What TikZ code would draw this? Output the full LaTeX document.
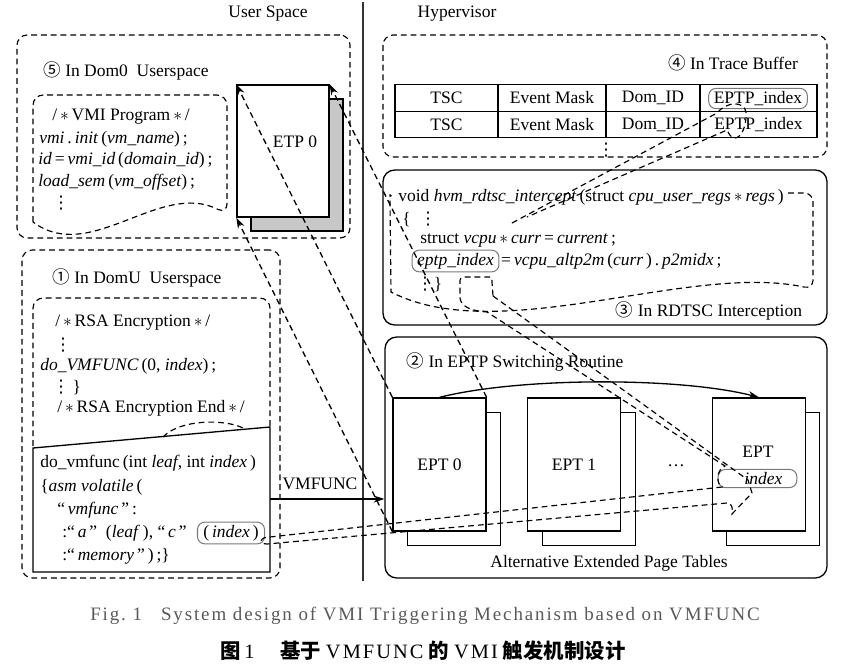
\documentclass[tikz,border=0pt]{standalone}
\usepackage{fontspec}
\setmainfont{Liberation Serif}
\newfontfamily\cjk{Noto Sans CJK SC}
\newfontfamily\capfont{Liberation Serif}[LetterSpace=10]
\newfontfamily\symf{DejaVu Sans}
\usepackage{tikz}
\usetikzlibrary{arrows.meta}
\definecolor{shade}{HTML}{C8C8C8}
\definecolor{rim}{HTML}{7A7A7A}
\newcommand{\pxu}{0.686pt}
\newcommand{\mul}{\,$\ast$\,}
\newcommand{\vd}{{\symf ⋮}}
\tikzset{
  dbox/.style  = {draw, dashed, dash pattern=on 4pt off 2.7pt, rounded corners=7pt, line width=0.8pt},
  sbox/.style  = {draw, rounded corners=8pt, line width=0.9pt},
  page/.style  = {draw, fill=white, line width=0.9pt, inner sep=0pt},
  cell/.style  = {draw, line width=0.8pt, minimum height=26.5*\pxu, inner sep=0pt},
  ibox/.style  = {draw=rim, rounded corners=5pt, line width=0.7pt, inner xsep=3.5pt, inner ysep=2pt},
  cline/.style = {anchor=west, inner sep=0pt},
  lbl/.style   = {inner sep=0pt},
  dl/.style    = {dashed, dash pattern=on 4pt off 2.7pt, line width=0.8pt},
  ar/.style    = {-{Stealth[length=2.6mm, width=1.7mm]}, line width=0.9pt},
}
\begin{document}
\begin{tikzpicture}[x=0.686pt, y=-0.686pt, font=\fontsize{12}{14}\selectfont]
  \useasboundingbox (0,0) rectangle (848,668);

  % headings and divider
  \node[lbl] (lus) at (268,14) {User Space};
  \node[lbl] (lhv) at (457,14) {Hypervisor};
  \draw[line width=0.8pt, black!80] (363,2) -- (363,581);

  % (5) Dom0 userspace
  \node[dbox, minimum width=333*\pxu, minimum height=203*\pxu] (dom0) at (183.5,136.5) {};
  \node[lbl] (l5) at (126,71) {{\cjk ⑤} In Dom0\enspace Userspace};
  \draw[dl, rounded corners=7pt] (33,222) -- (33,95) -- (227,95) -- (227,214)
    [sharp corners] .. controls (160,180) and (90,265) .. (33,222);
  \node[cline] (v1) at (52,117) {/\mul VMI Program\mul/};
  \node[cline] (v2) at (39,139) {\textit{vmi}\,.\,\textit{init}\,(\textit{vm\_name})\,;};
  \node[cline] (v3) at (38,160) {\textit{id}\,=\,\textit{vmi\_id}\,(\textit{domain\_id})\,;};
  \node[cline] (v4) at (38,182) {\textit{load\_sem}\,(\textit{vm\_offset})\,;};
  \node[cline] (v5) at (52,203) {\vd};
  \node[page, fill=shade, minimum width=92*\pxu, minimum height=132*\pxu] (etpb) at (297,165) {};
  \node[page, minimum width=92*\pxu, minimum height=132*\pxu] (etp) at (283,151) {};
  \node[lbl] (etpl) at (295,142) {ETP 0};

  % (1) DomU userspace
  \node[dbox, minimum width=258*\pxu, minimum height=328*\pxu] (domu) at (151,414) {};
  \node[lbl] (l1) at (137,278) {{\cjk ①} In DomU\enspace Userspace};
  \draw[dl, rounded corners=7pt] (33,446) -- (33,298) -- (270,298) -- (270,428);
  \node[cline] (r1) at (55,323) {/\mul RSA Encryption\mul/};
  \node[cline] (r2) at (54,345) {\vd};
  \node[cline] (r3) at (40,366) {\textit{do\_VMFUNC}\,(0,\ \textit{index})\,;};
  \node[cline] (r4) at (52,387) {\vd\,\}};
  \node[cline] (r5) at (57,408) {/\mul RSA Encryption End\mul/};
  \draw[line width=0.9pt, fill=white] (33,448) -- (270,427) -- (270,572) -- (33,572) -- cycle;
  \draw[dl] (163,437) .. controls (180,419) and (225,419) .. (243,428);
  \node[cline] (f1) at (40,463) {do\_vmfunc\,(int \textit{leaf},\ int \textit{index}\,)};
  \node[cline] (f2) at (40,487) {\{\textit{asm volatile}\,(};
  \node[cline] (f3) at (57,510) {“\,\textit{vmfunc}\,”\,:};
  \node[cline] (f4) at (62,533) {:“\,\textit{a}\,”\ \ (\textit{leaf}\,),\ “\,\textit{c}\,”};
  \node[ibox, inner xsep=4pt] (fidx) at (231,533) {(\,\textit{index}\,)};
  \node[cline] (f5) at (62,556) {:“\,\textit{memory}\,”\,)\,;\}};

  % (4) trace buffer
  \node[dbox, minimum width=444*\pxu, minimum height=122*\pxu] (trace) at (605,96) {};
  \node[lbl] (l4) at (733,63) {{\cjk ④} In Trace Buffer};
  \node[cell, minimum width=103*\pxu] (t1a) at (446.5,98) {TSC};
  \node[cell, minimum width=108*\pxu] (t1b) at (552,98) {Event Mask};
  \node[cell, minimum width=94*\pxu] (t1c) at (653,98) {Dom\_ID};
  \node[cell, minimum width=117*\pxu] (t1d) at (758.5,98) {};
  \node[ibox] (tidx) at (758,98.5) {EPTP\_index};
  \node[cell, minimum width=103*\pxu] (t2a) at (446.5,124.5) {TSC};
  \node[cell, minimum width=108*\pxu] (t2b) at (552,124.5) {Event Mask};
  \node[cell, minimum width=94*\pxu] (t2c) at (653,124.5) {Dom\_ID};
  \node[cell, minimum width=117*\pxu] (t2d) at (758.5,124.5) {EPTP\_index};
  \node[lbl] (tdots) at (606,150) {\vd};

  % (3) rdtsc interception
  \node[sbox, minimum width=444*\pxu, minimum height=155*\pxu] (rdtsc) at (605,247.5) {};
  \draw[dl, rounded corners=6pt] (788,193) -- (813,193) -- (813,289)
    [sharp corners] .. controls (690,262) and (500,348) .. (391,292)
    [rounded corners=6pt] -- (390,203) [sharp corners] .. controls (390,197) .. (394,193);
  \node[cline] (h1) at (398,197) {void \textit{hvm\_rdtsc\_intercept}\,(struct \textit{cpu\_user\_regs}\mul\textit{regs}\,)};
  \node[cline] (h2) at (402,219) {\{\ \ \vd};
  \node[cline] (h3) at (420,240) {struct \textit{vcpu}\mul\textit{curr}\,=\,\textit{current}\,;};
  \node[ibox] (hidx) at (455.5,261) {\textit{eptp\_index}};
  \node[cline] (h4) at ([xshift=1pt]hidx.east) {=\,\textit{vcpu\_altp2m}\,(\textit{curr}\,)\,.\,\textit{p2midx}\,;};
  \node[cline] (h5) at (416,284) {\vd\}};
  \node[lbl] (l3) at (709,311) {{\cjk ③} In RDTSC Interception};

  % (2) EPTP switching routine
  \node[sbox, minimum width=442*\pxu, minimum height=241*\pxu] (sw) at (606,457.5) {};
  \node[lbl] (l2) at (515,362) {{\cjk ②} In EPTP Switching Routine};
  \node[page, minimum width=93*\pxu, minimum height=133*\pxu] (ept0b) at (454,479) {};
  \node[page, minimum width=93*\pxu, minimum height=133*\pxu] (ept0) at (439.5,464.5) {EPT 0};
  \node[page, minimum width=93*\pxu, minimum height=133*\pxu] (ept1b) at (589,479) {};
  \node[page, minimum width=93*\pxu, minimum height=133*\pxu] (ept1) at (574,464.5) {EPT 1};
  \node[page, minimum width=93*\pxu, minimum height=133*\pxu] (eptnb) at (773,479) {};
  \node[page, minimum width=93*\pxu, minimum height=133*\pxu] (eptn) at (759,464.5) {};
  \node[lbl] (eptl) at (758,452) {EPT};
  \node[ibox, inner xsep=10pt] (eidx) at (757.5,478.5) {\hspace{8pt}\textit{index}};
  \node[lbl] (edots) at (676,466) {\dots};
  \node[lbl] (laept) at (609,563) {Alternative Extended Page Tables};
  \draw[ar] (ept0.north) .. controls (520,377) and (680,377) .. (eptn.north);

  % VMFUNC call
  \coordinate (vmfs) at (270,499);
  \draw[ar] (vmfs) -- (vmfs -| sw.west);
  \node[lbl] (lvmf) at (320,484) {VMFUNC};

  % EPT 0 mapped to ETP 0
  \draw[dl, ar] (ept0.north west) -- (etp.north west);
  \draw[dl, ar] (ept0.north east) -- (etp.north east);
  \draw[dl, ar] (ept0.south west) -- (etp.south west);

  % index flow: trace buffer -> eptp_index
  \coordinate (dend1) at (512,223);
  \coordinate (dend2) at (527,217);
  \draw[dl] (dend1) -- (717,113) .. controls (727,101) and (744,101) .. (746,112)
    .. controls (747,126) and (741,138) .. (735,138)
    .. controls (731,138) and (729,134) .. (727,130) -- (dend2);

  % index flow: do_vmfunc -> EPT index -> eptp_index
  \draw[dl] (493,296) -- (748,480) -- (752,493) -- (732,514)
    .. controls (733,508) and (732,503) .. (727,503)
    -- (267,544) .. controls (259,544) and (259,537) .. (270,537)
    -- (722,487) .. controls (716,484) and (716,470) .. (725,466)
    -- (487,312) .. controls (472,311) and (461,307) .. (460,298)
    -- (460,283) .. controls (460,278) .. (465,277)
    -- (488,277) .. controls (492,277) .. (492,282) -- cycle;

  % caption
  \node[lbl, text=black!65, font=\capfont\fontsize{13}{15}\selectfont] (cap1) at (425,616)
    {Fig.\ 1\quad System design of VMI Triggering Mechanism based on VMFUNC};
  \node[lbl, font=\fontsize{14}{16}\selectfont] (cap2) at (423,651)
    {{\cjk\bfseries 图}\,{\capfont 1}\quad\ {\cjk\bfseries 基于}\ {\capfont VMFUNC}\ {\cjk\bfseries 的}\ {\capfont VMI}\ {\cjk\bfseries 触发机制设计}};
\end{tikzpicture}
\end{document}
